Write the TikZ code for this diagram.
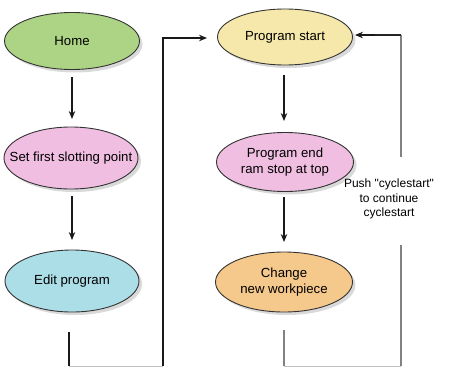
\documentclass[tikz,border=0pt]{standalone}
\usepackage{fontspec}
\setmainfont{Liberation Sans}
\usetikzlibrary{shapes.geometric,arrows.meta,shadows}
\definecolor{cgreen}{RGB}{172,212,132}
\definecolor{cpink}{RGB}{240,190,225}
\definecolor{ccyan}{RGB}{172,222,232}
\definecolor{cyellow}{RGB}{246,232,170}
\definecolor{corange}{RGB}{245,200,140}
\definecolor{cgray}{RGB}{130,130,130}
\begin{document}
\begin{tikzpicture}[x=1pt,y=-1pt,
  oval/.style={ellipse,draw=black!80,line width=0.9pt,inner xsep=-30pt,inner ysep=0pt,align=center,
    font=\fontsize{13.2}{15.5}\selectfont,
    drop shadow={shadow xshift=3pt,shadow yshift=-3pt,opacity=0.15,fill=black}},
  blk/.style={line width=1.9pt,draw=black!90},
  gry/.style={line width=1.2pt,draw=cgray},
  arr/.style={-{Stealth[length=8pt,width=6.5pt]}}]
\useasboundingbox (0,0) rectangle (454,367);
\node[oval,fill=cgreen,minimum width=135pt,minimum height=57pt] (home) at (72,41) {Home};
\node[oval,fill=cpink,minimum width=134pt,minimum height=62pt] (set) at (71,158) {Set first slotting point};
\node[oval,fill=ccyan,minimum width=134pt,minimum height=62pt] (edit) at (72,281) {Edit program};
\node[oval,fill=cyellow,minimum width=135pt,minimum height=56pt] (ps) at (285,37) {Program start};
\node[oval,fill=cpink,minimum width=137pt,minimum height=59pt] (pe) at (285,162) {Program end\\ram stop at top};
\node[oval,fill=corange,minimum width=137pt,minimum height=60pt] (ch) at (284,282) {Change\\new workpiece};
\node[align=center,font=\fontsize{12}{14.2}\selectfont] (push) at (389,199) {Push \textquotedbl cyclestart\textquotedbl\\to continue\\cyclestart};
\coordinate (e0) at (69,332);
\coordinate (e1) at (69,366);
\coordinate (e2) at (163,366);
\coordinate (e3) at (163,38);
\coordinate (pin) at (207,38);
\coordinate (c0) at (284,330);
\coordinate (c1) at (284,366);
\coordinate (c2) at (401,366);
\coordinate (c3) at (401,245);
\coordinate (c4) at (401,157);
\coordinate (c5) at (401,35);
\coordinate (pin2) at (355,35);
\draw[blk,arr] (72,77) -- (72,119);
\draw[blk,arr] (72,196) -- (72,240);
\draw[blk,arr] (284,75) -- (284,121);
\draw[blk,arr] (284,197) -- (284,242);
\draw[blk] (e0) -- (e1);
\draw[gry,draw=black!25,line width=1pt] (e1) -- (e2);
\draw[blk,arr] (e2) -- (e3) -- (pin);
\draw[gry] (c0) -- (c1);
\draw[gry,draw=black!25,line width=1pt] (c1) -- (c2);
\draw[gry] (c2) -- (c3);
\draw[gry] (c4) -- (c5);
\draw[gry,draw=black!85] (c5) -- (375,35);
\draw[blk,arr,line width=1.2pt] (375,35) -- (pin2);
\end{tikzpicture}
\end{document}
